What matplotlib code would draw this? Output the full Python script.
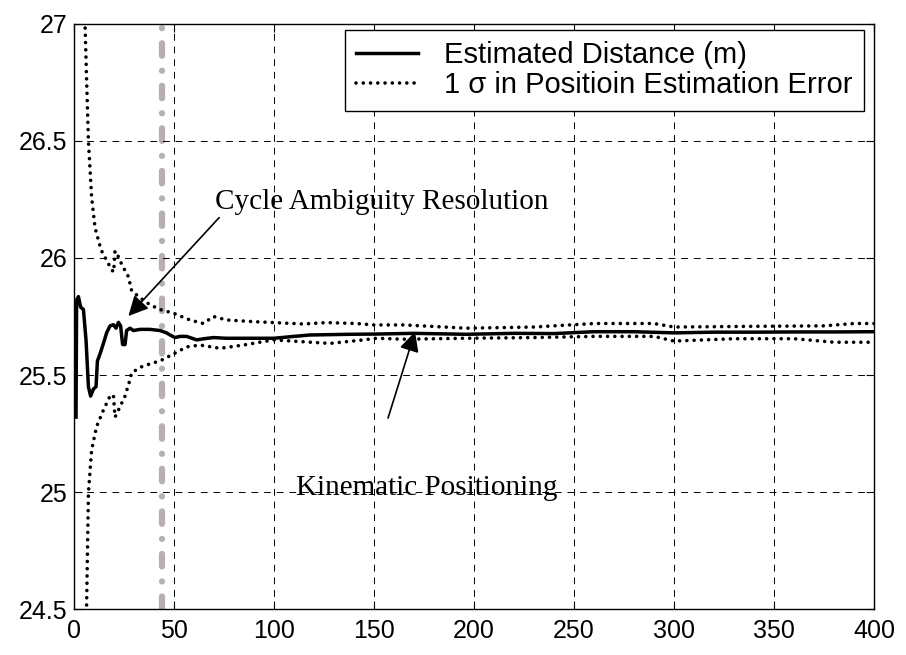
import matplotlib
matplotlib.use("Agg")
import matplotlib.pyplot as plt

# Estimated distance (solid)
x_est = [1, 1.3, 2.2, 3.3, 4.7, 6, 7.2, 8.3, 9.7, 11, 11.7, 13, 14.7, 16.3, 18, 19.7,
         21, 22.2, 23.3, 24.3, 25.5, 26.3, 28, 29.7, 33, 38, 43, 46.3, 48, 50.5, 53,
         56.3, 61.3, 65, 69.7, 76, 89.7, 100, 110, 118, 125, 138, 151, 170, 196, 220,
         240, 260, 280, 300, 320, 340, 360, 380, 400]
y_est = [25.32, 25.82, 25.835, 25.79, 25.78, 25.65, 25.45, 25.41, 25.44, 25.45, 25.56,
         25.59, 25.635, 25.68, 25.71, 25.715, 25.70, 25.725, 25.71, 25.63, 25.63, 25.69,
         25.70, 25.69, 25.695, 25.695, 25.69, 25.68, 25.671, 25.66, 25.665, 25.665,
         25.65, 25.655, 25.66, 25.657, 25.657, 25.657, 25.665, 25.671, 25.672, 25.674,
         25.675, 25.678, 25.674, 25.678, 25.677, 25.685, 25.685, 25.68, 25.683, 25.683,
         25.684, 25.684, 25.685]

# 1 sigma bounds (dotted)
x_up = [5.0, 5.5, 6.3, 7.2, 8.8, 10.5, 12.7, 13.8, 16.3, 18.8, 19.8, 20.5, 22.2, 24,
        27.2, 28.8, 33, 38, 43, 49.7, 58, 64.7, 69.7, 76.3, 89.7, 99.7, 114.7, 126.3,
        141.3, 149.7, 164.7, 196.3, 230, 260, 290, 300, 340, 375, 390, 400]
y_up = [27.3, 27.0, 26.76, 26.50, 26.26, 26.13, 26.06, 26.03, 25.99, 25.95, 25.94, 26.03,
        26.005, 25.97, 25.92, 25.86, 25.83, 25.80, 25.78, 25.764, 25.735, 25.72, 25.75,
        25.735, 25.728, 25.724, 25.718, 25.724, 25.72, 25.714, 25.714, 25.70, 25.705,
        25.72, 25.72, 25.705, 25.708, 25.71, 25.72, 25.72]
x_lo = [6.0, 6.3, 7.2, 8.8, 11.3, 14.7, 18, 19.7, 20.5, 22.2, 25.5, 28, 28.8, 33.8,
        38.8, 43, 49.7, 56.3, 63, 73, 84.7, 99.7, 114.7, 128, 144.7, 151.3, 164.7,
        196.3, 230, 260, 290, 300, 330, 360, 380, 400]
y_lo = [24.3, 24.52, 24.995, 25.18, 25.28, 25.35, 25.41, 25.415, 25.32, 25.35, 25.41,
        25.48, 25.51, 25.535, 25.55, 25.56, 25.59, 25.62, 25.628, 25.614, 25.628, 25.65,
        25.642, 25.635, 25.65, 25.657, 25.653, 25.657, 25.66, 25.665, 25.665, 25.645,
        25.655, 25.655, 25.64, 25.64]

x_fix = 44  # cycle ambiguity resolved
x_ticks = [0, 50, 100, 150, 200, 250, 300, 350, 400]
y_ticks = [24.5, 25, 25.5, 26, 26.5, 27]

plt.rcParams['font.family'] = ['Liberation Sans', 'DejaVu Sans']

fig = plt.figure(figsize=(9.06, 6.55), dpi=100)
ax = fig.add_axes([0.0817, 0.0702, 0.883, 0.8932])

ax.axvline(x_fix, color='#b8b0ae', lw=4.5, linestyle=(0, (2.0, 2.4, 0.01, 2.4)),
           dash_capstyle='round', zorder=1)
ax.plot(x_est, y_est, color='black', lw=2.5, label='Estimated Distance (m)', zorder=3)
dot = (0, (0.01, 2.0))
ax.plot(x_up, y_up, color='black', lw=2.6, linestyle=dot,
        dash_capstyle='round', label='1 \u03c3 in Positioin Estimation Error', zorder=3)
ax.plot(x_lo, y_lo, color='black', lw=2.6, linestyle=dot,
        dash_capstyle='round', zorder=3)

ax.set_xlim(0, 400)
ax.set_ylim(24.5, 27)
ax.set_xticks(x_ticks)
ax.set_yticks(y_ticks)
ax.set_yticklabels(['24.5', '25', '25.5', '26', '26.5', '27'])
ax.tick_params(direction='in', length=6, width=0.8, top=True, right=True, labelsize=18)
ax.tick_params(axis='x', pad=7)
ax.tick_params(axis='y', pad=5)
ax.grid(True, color='black', lw=0.7, linestyle=(0, (7, 6)))
for s in ax.spines.values():
    s.set_linewidth(1.0)

ax.annotate('Cycle Ambiguity Resolution', xy=(27.2, 25.752), xytext=(70.5, 26.21),
            fontsize=21, family='Liberation Serif', va='baseline', ha='left',
            arrowprops=dict(arrowstyle='-|>', color='black', lw=1.2, mutation_scale=30,
                            shrinkA=0, shrinkB=0, relpos=(0.02, 0.0)))
ax.annotate('', xy=(170.5, 25.685), xytext=(157, 25.316),
            arrowprops=dict(arrowstyle='-|>', color='black', lw=1.2, mutation_scale=30,
                            shrinkA=0, shrinkB=0))
ax.text(111, 24.987, 'Kinematic Positioning', fontsize=21, family='Liberation Serif',
        va='baseline', ha='left')

leg = ax.legend(loc='upper right', bbox_to_anchor=(0.9875, 0.99), borderaxespad=0,
                fontsize=21, handlelength=2.1, handletextpad=0.9, fancybox=False,
                framealpha=1, edgecolor='black', borderpad=0.4, labelspacing=0.05)
leg.get_frame().set_linewidth(1.0)

fig.savefig('out.png', dpi=100)
